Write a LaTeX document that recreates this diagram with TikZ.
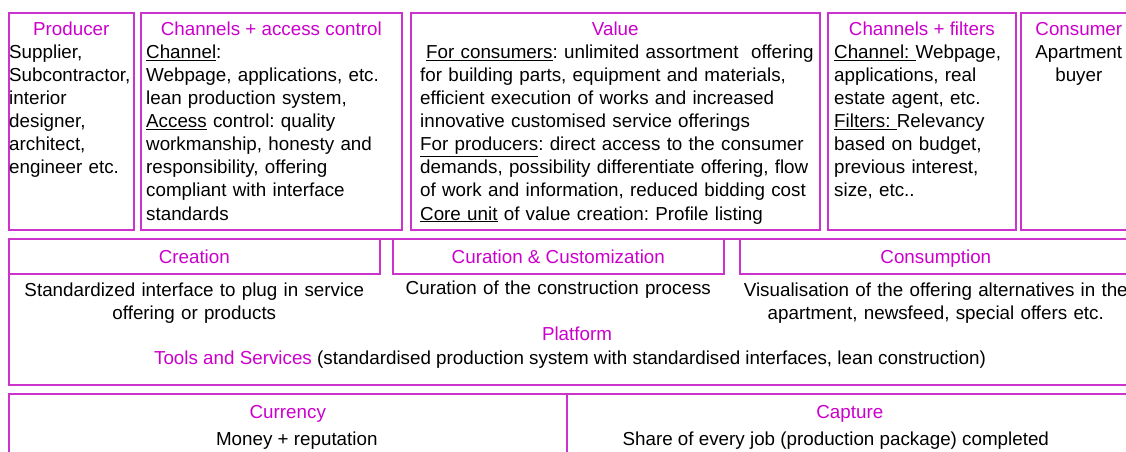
\documentclass[tikz,border=0pt]{standalone}
\usepackage{fontspec}
\setmainfont{Liberation Sans}
\usetikzlibrary{positioning, calc}
\definecolor{headpink}{RGB}{204,0,204}
\definecolor{linepink}{RGB}{204,51,204}
\frenchspacing

\begin{document}
\begin{tikzpicture}[x=1pt, y=-1pt,
    every node/.style={font=\fontsize{18.8}{23}\selectfont, inner sep=0pt},
    cell/.style={draw=linepink, line width=1.6pt, anchor=north west},
    head/.style={text=headpink, anchor=base},
    body/.style={anchor=base west, align=left, text width=#1},
    cbody/.style={anchor=base, align=center, text width=#1}
]
    \path[use as bounding box] (0,0) rectangle (1126,452);
    \clip (0,0) rectangle (1126,452);

    % top row
    \node[cell, minimum width=125pt, minimum height=217pt] (prod) at (8,12) {};
    \node[cell, minimum width=261pt, minimum height=217pt] (chan) at (140,12) {};
    \node[cell, minimum width=409pt, minimum height=217pt] (value) at (410,12) {};
    \node[cell, minimum width=188pt, minimum height=217pt] (filt) at (827,12) {};
    \node[cell, minimum width=116pt, minimum height=217pt] (cons) at (1020,12) {};

    \node[head] (prodT) at ($(prod.north)+(0,24)$) {Producer};
    \node[head] (chanT) at ($(chan.north)+(0,24)$) {Channels + access control};
    \node[head] (valueT) at ($(value.north)+(0,24)$) {Value};
    \node[head] (filtT) at ($(filt.north)+(0,24)$) {Channels + filters};
    \node[head] (consT) at ($(cons.north)+(0,24)$) {Consumer};

    \node[body=140pt] (prodB) at ($(prod.north west)+(1,47)$) {
        Supplier,\\
        Subcontractor,\\
        interior\\
        designer,\\
        architect,\\
        engineer etc.
    };
    \node[body=270pt] (chanB) at ($(chan.north west)+(6,47)$) {
        \underline{Channel}:\\
        Webpage, applications, etc.\\
        lean production system,\\
        \underline{Access} control: quality\\
        workmanship, honesty and\\
        responsibility, offering\\
        compliant with interface\\
        standards
    };
    \node[body=450pt] (valueB) at ($(value.north west)+(10,47)$) {
        \hspace*{6pt}\underline{For consumers}: unlimited assortment\ \ offering\\
        for building parts, equipment and materials,\\
        efficient execution of works and increased\\
        innovative customised service offerings\\
        \underline{For producers}: direct access to the consumer\\
        demands, possibility differentiate offering, flow\\
        of work and information, reduced bidding cost\\
        \underline{Core unit} of value creation: Profile listing
    };
    \node[body=200pt] (filtB) at ($(filt.north west)+(7,47)$) {
        \underline{Channel:\ }Webpage,\\
        applications, real\\
        estate agent, etc.\\
        \underline{Filters:\ }Relevancy\\
        based on budget,\\
        previous interest,\\
        size, etc..
    };
    \node[cbody=112pt] (consB) at ($(cons.north)+(0,47)$) {Apartment\\buyer};

    % platform row
    \node[cell, minimum width=1132pt, minimum height=146pt] (plat) at (8,238) {};
    \node[cell, minimum width=371pt, minimum height=35pt] (crea) at (8,238) {};
    \node[cell, minimum width=331pt, minimum height=35pt] (cura) at (392,238) {};
    \node[cell, minimum width=392pt, minimum height=35pt] (cnsm) at (739,238) {};

    \node[head] (creaT) at ($(crea.center)+(0,7)$) {Creation};
    \node[head] (curaT) at ($(cura.center)+(0,7)$) {Curation \& Customization};
    \node[head] (cnsmT) at ($(cnsm.center)+(0,7)$) {Consumption};

    \node[cbody=365pt] (creaB) at ($(crea.south)+(0,22)$) {
        Standardized interface to plug in service\\
        offering or products
    };
    \node[cbody=330pt] (curaB) at ($(cura.south)+(0,20)$) {Curation of the construction process};
    \node[cbody=420pt] (cnsmB) at ($(cnsm.south)+(0,22)$) {
        Visualisation of the offering alternatives in the\\
        apartment, newsfeed, special offers etc.
    };

    \node[head] (platT) at (577,340) {Platform};
    \node[anchor=base] (tools) at (570,364) {\textcolor{headpink}{Tools and Services} (standardised production system with standardised interfaces, lean construction)};

    % currency and capture
    \node[cell, minimum width=558pt, minimum height=80pt] (curr) at (8,393) {};
    \node[cell, minimum width=566pt, minimum height=80pt] (capt) at (566,393) {};

    \node[head] (currT) at ($(curr.north)+(0,25)$) {Currency};
    \node[head] (captT) at ($(capt.north)+(0,25)$) {Capture};
    \node[anchor=base] (currB) at ($(currT.base)+(9,27)$) {Money + reputation};
    \node[anchor=base] (captB) at ($(captT.base)+(-14,27)$) {Share of every job (production package) completed};

\end{tikzpicture}
\end{document}
